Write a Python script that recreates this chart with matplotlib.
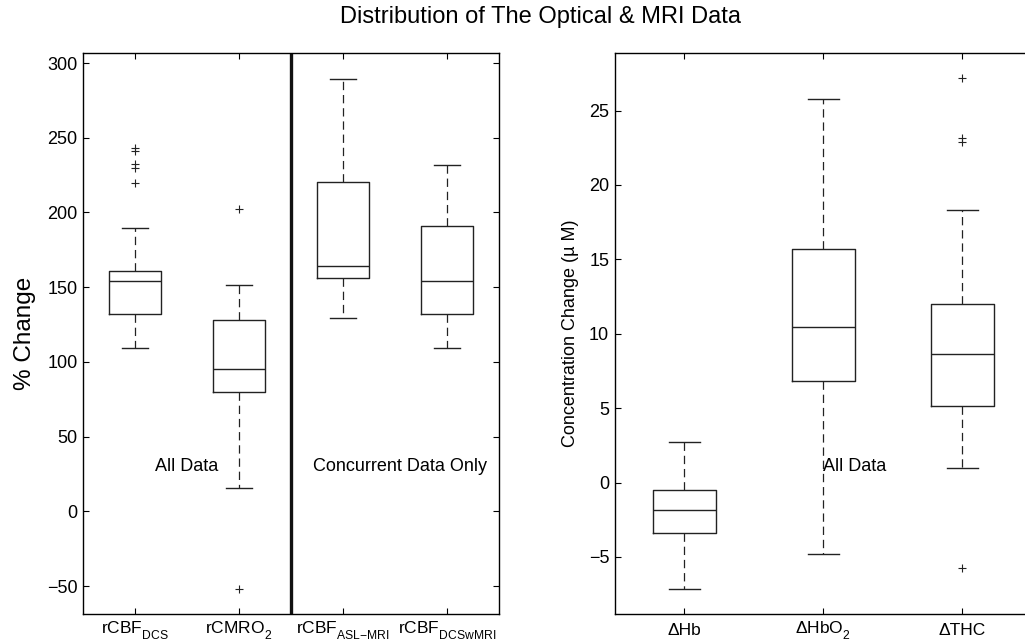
import matplotlib
matplotlib.use("Agg")
import matplotlib.pyplot as plt
import matplotlib._mathtext as mathtext_impl

plt.rcParams['font.family'] = ['Liberation Sans', 'DejaVu Sans']
plt.rcParams['mathtext.fontset'] = 'custom'
plt.rcParams['mathtext.rm'] = 'Liberation Sans'
plt.rcParams['mathtext.it'] = 'Liberation Sans:italic'
plt.rcParams['mathtext.bf'] = 'Liberation Sans:bold'
plt.rcParams['lines.scale_dashes'] = False

# índices mais baixos, como no MATLAB
mathtext_impl.FontConstantsBase.sub1 = 0.75
mathtext_impl.FontConstantsBase.sub2 = 0.9

# --- dados: painel esquerdo (% de variação) ---
left_labels = [r'rCBF$_{\mathrm{DCS}}$', r'rCMRO$_{\mathrm{2}}$',
               r'rCBF$_{\mathrm{ASL{-}MRI}}$', r'rCBF$_{\mathrm{DCSwMRI}}$']
left_whislo = [109.6, 15.4, 129.6, 109.6]
left_q1 = [132.3, 80.1, 156.2, 132.3]
left_med = [154.1, 95.3, 164.2, 154.4]
left_q3 = [160.6, 128.0, 220.4, 190.6]
left_whishi = [189.6, 151.5, 289.4, 232.0]
left_fliers = [[242.8, 241.0, 232.3, 230.0, 219.8], [202.0, -52.2], [], []]
left_yticks = [-50, 0, 50, 100, 150, 200, 250, 300]

# --- dados: painel direito (concentração) ---
right_labels = [r'ΔHb', r'ΔHbO$_{\mathrm{2}}$', r'ΔTHC']
right_whislo = [-7.12, -4.79, 0.99]
right_q1 = [-3.38, 6.86, 5.18]
right_med = [-1.83, 10.46, 8.63]
right_q3 = [-0.51, 15.68, 12.01]
right_whishi = [2.73, 25.77, 18.33]
right_fliers = [[], [], [27.18, 23.15, 22.9, -5.75]]
right_yticks = [-5, 0, 5, 10, 15, 20, 25]

LINE = '#222222'


def make_stats(labels, whislo, q1, med, q3, whishi, fliers):
    return [dict(label=l, whislo=a, q1=b, med=c, q3=d, whishi=e, fliers=f)
            for l, a, b, c, d, e, f in zip(labels, whislo, q1, med, q3, whishi, fliers)]


def draw_boxes(ax, stats, width):
    n = len(stats)
    ax.bxp(stats, positions=range(1, n + 1), widths=width, capwidths=width / 2,
           showfliers=True,
           boxprops=dict(color=LINE, lw=1.0),
           medianprops=dict(color=LINE, lw=1.0),
           whiskerprops=dict(color=LINE, lw=0.9, linestyle=(0, (6, 3.5))),
           capprops=dict(color=LINE, lw=1.0),
           flierprops=dict(marker='+', markeredgecolor=LINE, markersize=6,
                           markeredgewidth=0.8, linestyle='none'))
    ax.set_xlim(0.5, n + 0.5)
    for s in ax.spines.values():
        s.set_linewidth(1.0)
    ax.tick_params(direction='in', top=True, right=True, length=4, width=0.8)
    ax.tick_params(axis='y', labelsize=13, pad=4)
    ax.tick_params(axis='x', labelsize=12.5)


fig = plt.figure(figsize=(10.25, 6.44), dpi=100)

ax1 = fig.add_axes([0.081, 0.0466, 0.4059, 0.8711])
draw_boxes(ax1, make_stats(left_labels, left_whislo, left_q1, left_med,
                           left_q3, left_whishi, left_fliers), 0.5)
ax1.tick_params(axis='x', pad=4)
ax1.set_ylim(-68.7, 306.7)
ax1.set_yticks(left_yticks)
ax1.axvline(2.5, color='#111111', lw=2.4)
ax1.set_ylabel('% Change', fontsize=17.5, labelpad=8)
ax1.text(1.5, 30, 'All Data', fontsize=13, ha='center', va='center')
ax1.text(3.55, 30, 'Concurrent Data Only', fontsize=13, ha='center', va='center')

ax2 = fig.add_axes([0.5998, 0.0466, 0.4068, 0.8711])
draw_boxes(ax2, make_stats(right_labels, right_whislo, right_q1, right_med,
                           right_q3, right_whishi, right_fliers), 0.45)
ax2.tick_params(axis='x', pad=12)
for lbl in ax2.get_xticklabels():
    lbl.set_va('center')
ax2.set_ylim(-8.83, 28.87)
ax2.set_yticks(right_yticks)
ax2.set_ylabel('Concentration Change (µ M)', fontsize=13, labelpad=7)
ax2.text(2.0, 1.1, 'All Data', fontsize=13, ha='left', va='center')

fig.text(0.527, 0.974, 'Distribution of The Optical & MRI Data',
         fontsize=17, ha='center', va='center')

fig.savefig('out.png', dpi=100)
